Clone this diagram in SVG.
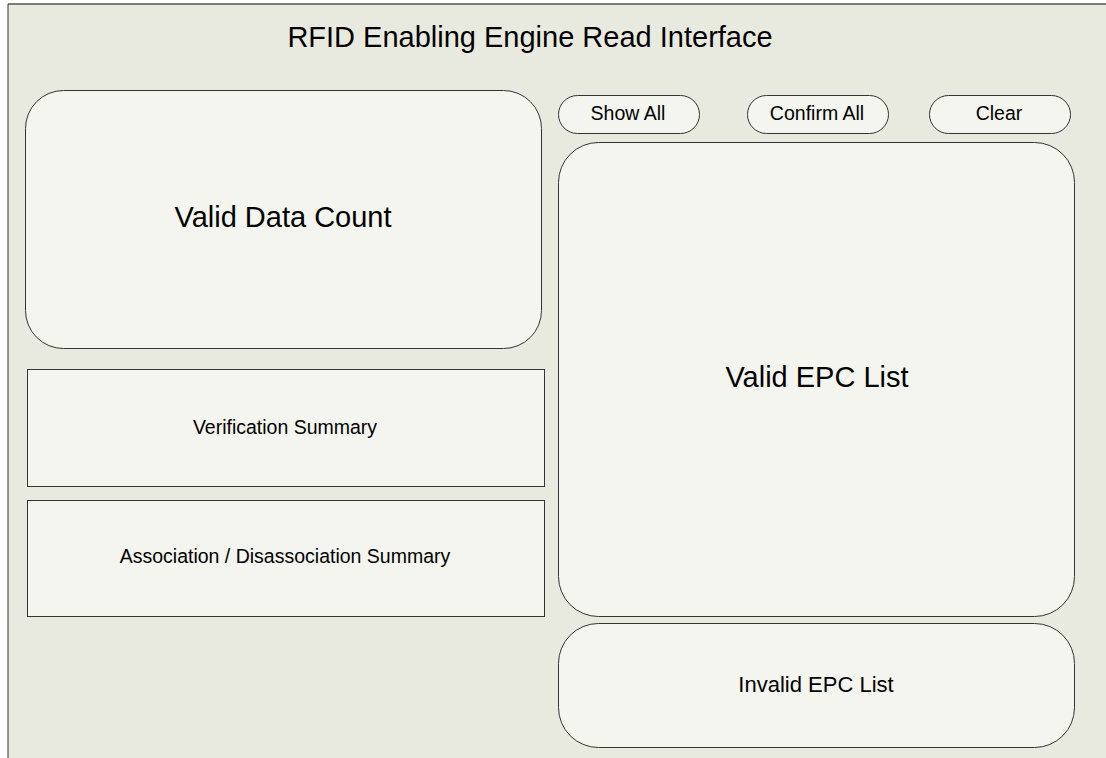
<svg xmlns="http://www.w3.org/2000/svg" width="1106" height="758" viewBox="0 0 1106 758">
  <style>
    .panel { fill: #F3F5EE; stroke: #333; stroke-width: 1; }
    .lbl { font-family: "Liberation Sans", Arial, sans-serif; fill: #000; text-anchor: middle; }
    .big { font-size: 29px; }
    .small { font-size: 19.5px; }
  </style>
  <rect x="0" y="0" width="1106" height="758" fill="#FFFFFF"/>
  <!-- window frame -->
  <g id="frame">
    <rect x="8" y="4" width="1106" height="760" fill="#E9EADF"/>
    <line x1="8" y1="4" x2="1106" y2="4" stroke="#555" stroke-width="1.5"/>
    <line x1="8" y1="4" x2="8" y2="758" stroke="#333" stroke-width="1"/>
    <text class="lbl big" x="530" y="47">RFID Enabling Engine Read Interface</text>
  </g>
  <g id="valid-data-count">
    <rect class="panel" x="25.5" y="90.5" width="516" height="258" rx="38" ry="38"/>
    <text class="lbl big" x="283" y="227">Valid Data Count</text>
  </g>
  <g id="verification-summary">
    <rect class="panel" x="27.5" y="369.5" width="517" height="117"/>
    <text class="lbl small" x="285" y="434">Verification Summary</text>
  </g>
  <g id="association-summary">
    <rect class="panel" x="27.5" y="500.5" width="517" height="116"/>
    <text class="lbl small" x="285" y="563">Association / Disassociation Summary</text>
  </g>
  <g id="btn-show-all">
    <rect class="panel" x="558.5" y="95.5" width="141" height="38" rx="19" ry="19"/>
    <text class="lbl small" x="628" y="120">Show All</text>
  </g>
  <g id="btn-confirm-all">
    <rect class="panel" x="747.5" y="95.5" width="141" height="38" rx="19" ry="19"/>
    <text class="lbl small" x="817" y="120">Confirm All</text>
  </g>
  <g id="btn-clear">
    <rect class="panel" x="929.5" y="95.5" width="141" height="38" rx="19" ry="19"/>
    <text class="lbl small" x="999" y="120">Clear</text>
  </g>
  <g id="valid-epc-list">
    <rect class="panel" x="558.5" y="142.5" width="516" height="474" rx="40" ry="40"/>
    <text class="lbl big" x="817" y="387">Valid EPC List</text>
  </g>
  <g id="invalid-epc-list">
    <rect class="panel" x="558.5" y="623.5" width="516" height="124" rx="40" ry="40"/>
    <text class="lbl" x="816" y="692" font-size="22">Invalid EPC List</text>
  </g>
  <g id="connectors"></g>
</svg>
